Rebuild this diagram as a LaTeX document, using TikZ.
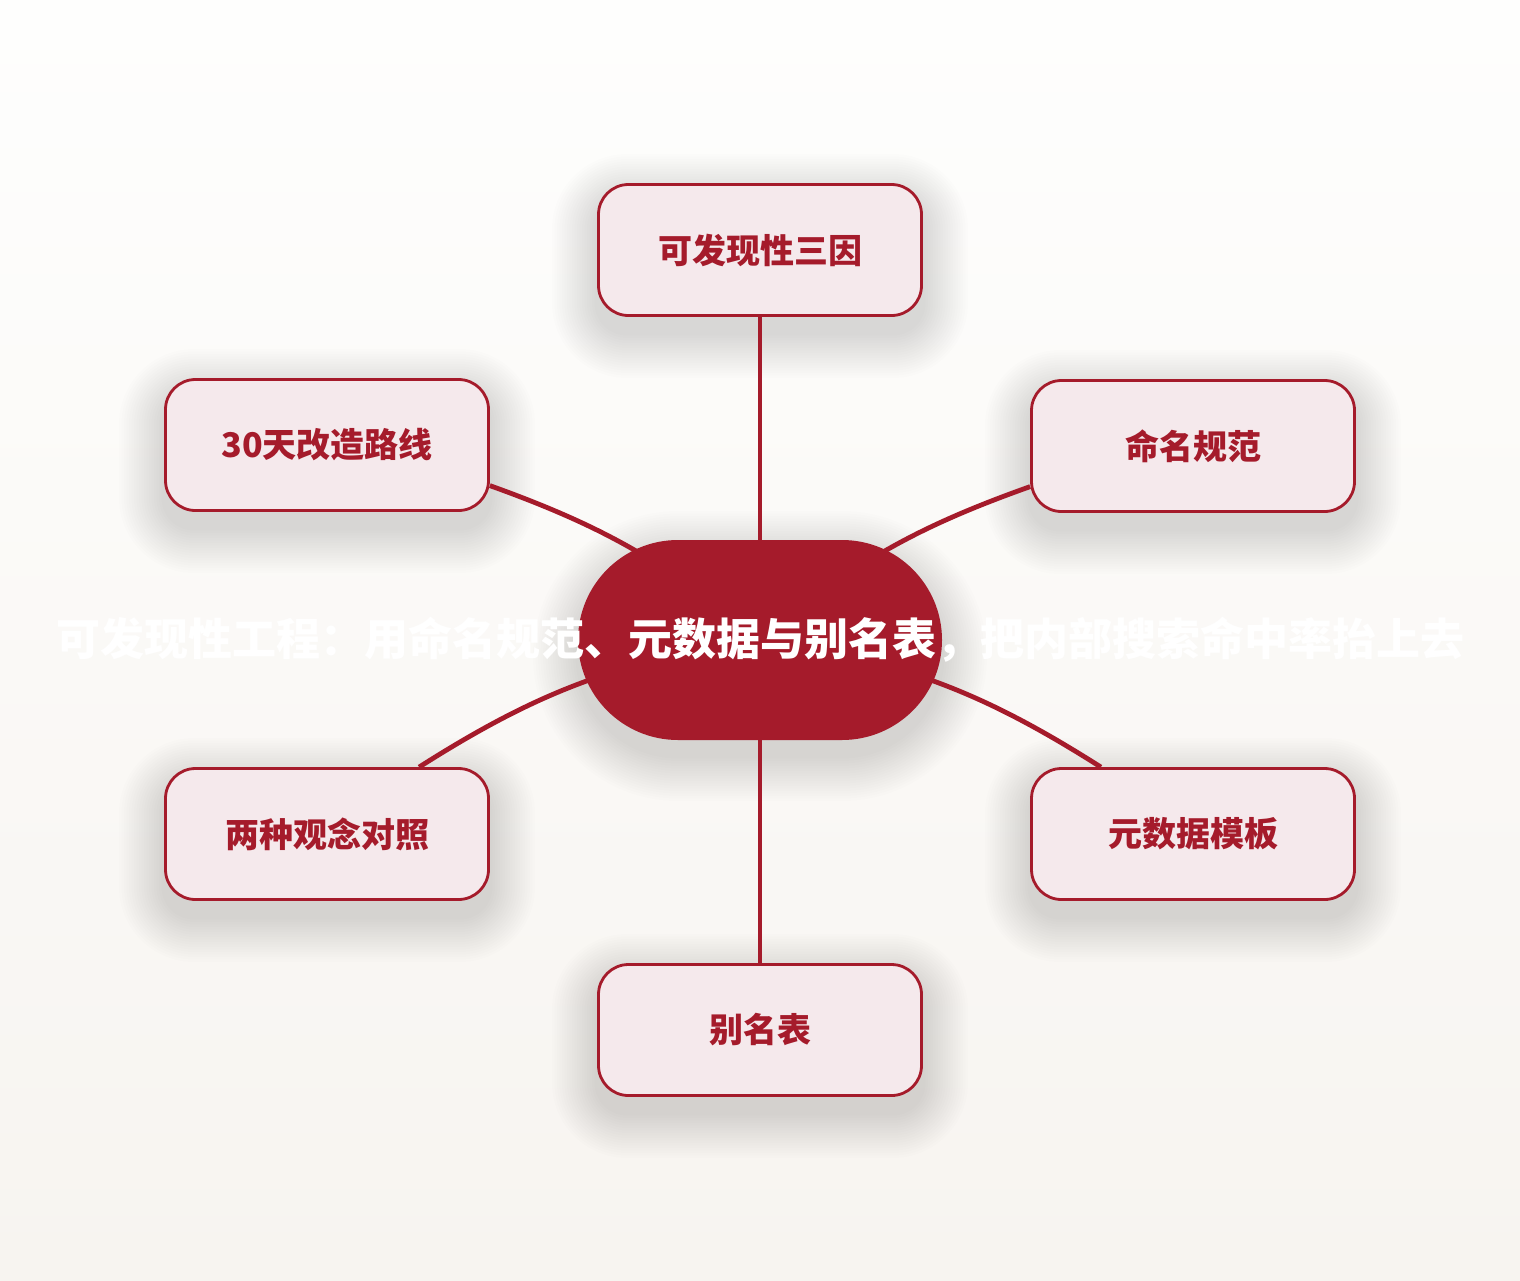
\documentclass[tikz,border=0pt]{standalone}
\usepackage{fontspec}
\newfontfamily\cjk{Noto Sans CJK SC}
\definecolor{darkred}{HTML}{A51B2B}
\definecolor{palepink}{HTML}{F5E9EC}
\definecolor{bgtop}{HTML}{FEFEFD}
\definecolor{bgbot}{HTML}{F7F4F0}
\pgfdeclarelayer{back}
\pgfdeclarelayer{edges}
\pgfsetlayers{back,edges,main}

\begin{document}
\begin{tikzpicture}[x=1pt,y=-1pt,
    topic/.style={draw=darkred, line width=2.8pt, fill=palepink,
        rounded corners=30pt, minimum width=323pt, minimum height=131pt,
        text=darkred, font=\cjk\bfseries\fontsize{34}{40}\selectfont},
    hub/.style={fill=darkred, rounded corners=100pt,
        minimum width=364pt, minimum height=200pt,
        text=white, font=\cjk\bfseries\fontsize{44}{50}\selectfont},
    link/.style={draw=darkred, line width=4.8pt},
    haze/.style={fill=black, opacity=.009}]
    \useasboundingbox (0,0) rectangle (1520,1280);
    \begin{pgfonlayer}{back}
        \fill [top color=bgtop, bottom color=bgbot] (0,0) rectangle (1520,1280);
        % soft shadow of the hub
        \foreach \i in {1,...,18}
            {\fill [haze, rounded corners=100+2.5*\i]
                (760-182-2.5*\i, 640-100-2.5*\i+16) rectangle (760+182+2.5*\i, 640+100+2.5*\i+16);}
    \end{pgfonlayer}

    \node [hub] (c) at (760,640)
        {\makebox[0pt]{\raisebox{-2pt}{可发现性工程：用命名规范、元数据与别名表，把内部搜索命中率抬上去}}};

    \foreach \n/\x/\y/\t in {top/760/250/可发现性三因, ul/327/445/30天改造路线,
        ur/1193/446/命名规范, ll/327/834/两种观念对照,
        lr/1193/834/元数据模板, bot/760/1030/别名表}
        {\begin{pgfonlayer}{back}
            \foreach \i in {1,...,18}
                {\fill [haze, rounded corners=30+2.5*\i]
                    (\x-163-2.5*\i, \y-67-2.5*\i+16) rectangle (\x+163+2.5*\i, \y+67+2.5*\i+16);}
        \end{pgfonlayer}
        \node [topic] (\n) at (\x,\y) {\t};}

    \begin{pgfonlayer}{edges}
        \draw [link] (top) -- (c.center);
        \draw [link] (bot) -- (c.center);
        \draw [link] (ul.-14) to[bend left=10] (c.center);
        \draw [link] (ur.194) to[bend right=10] (c.center);
        \draw [link] (ll.36) to[bend left=12] (c.center);
        \draw [link] (lr.144) to[bend right=12] (c.center);
    \end{pgfonlayer}
\end{tikzpicture}
\end{document}
